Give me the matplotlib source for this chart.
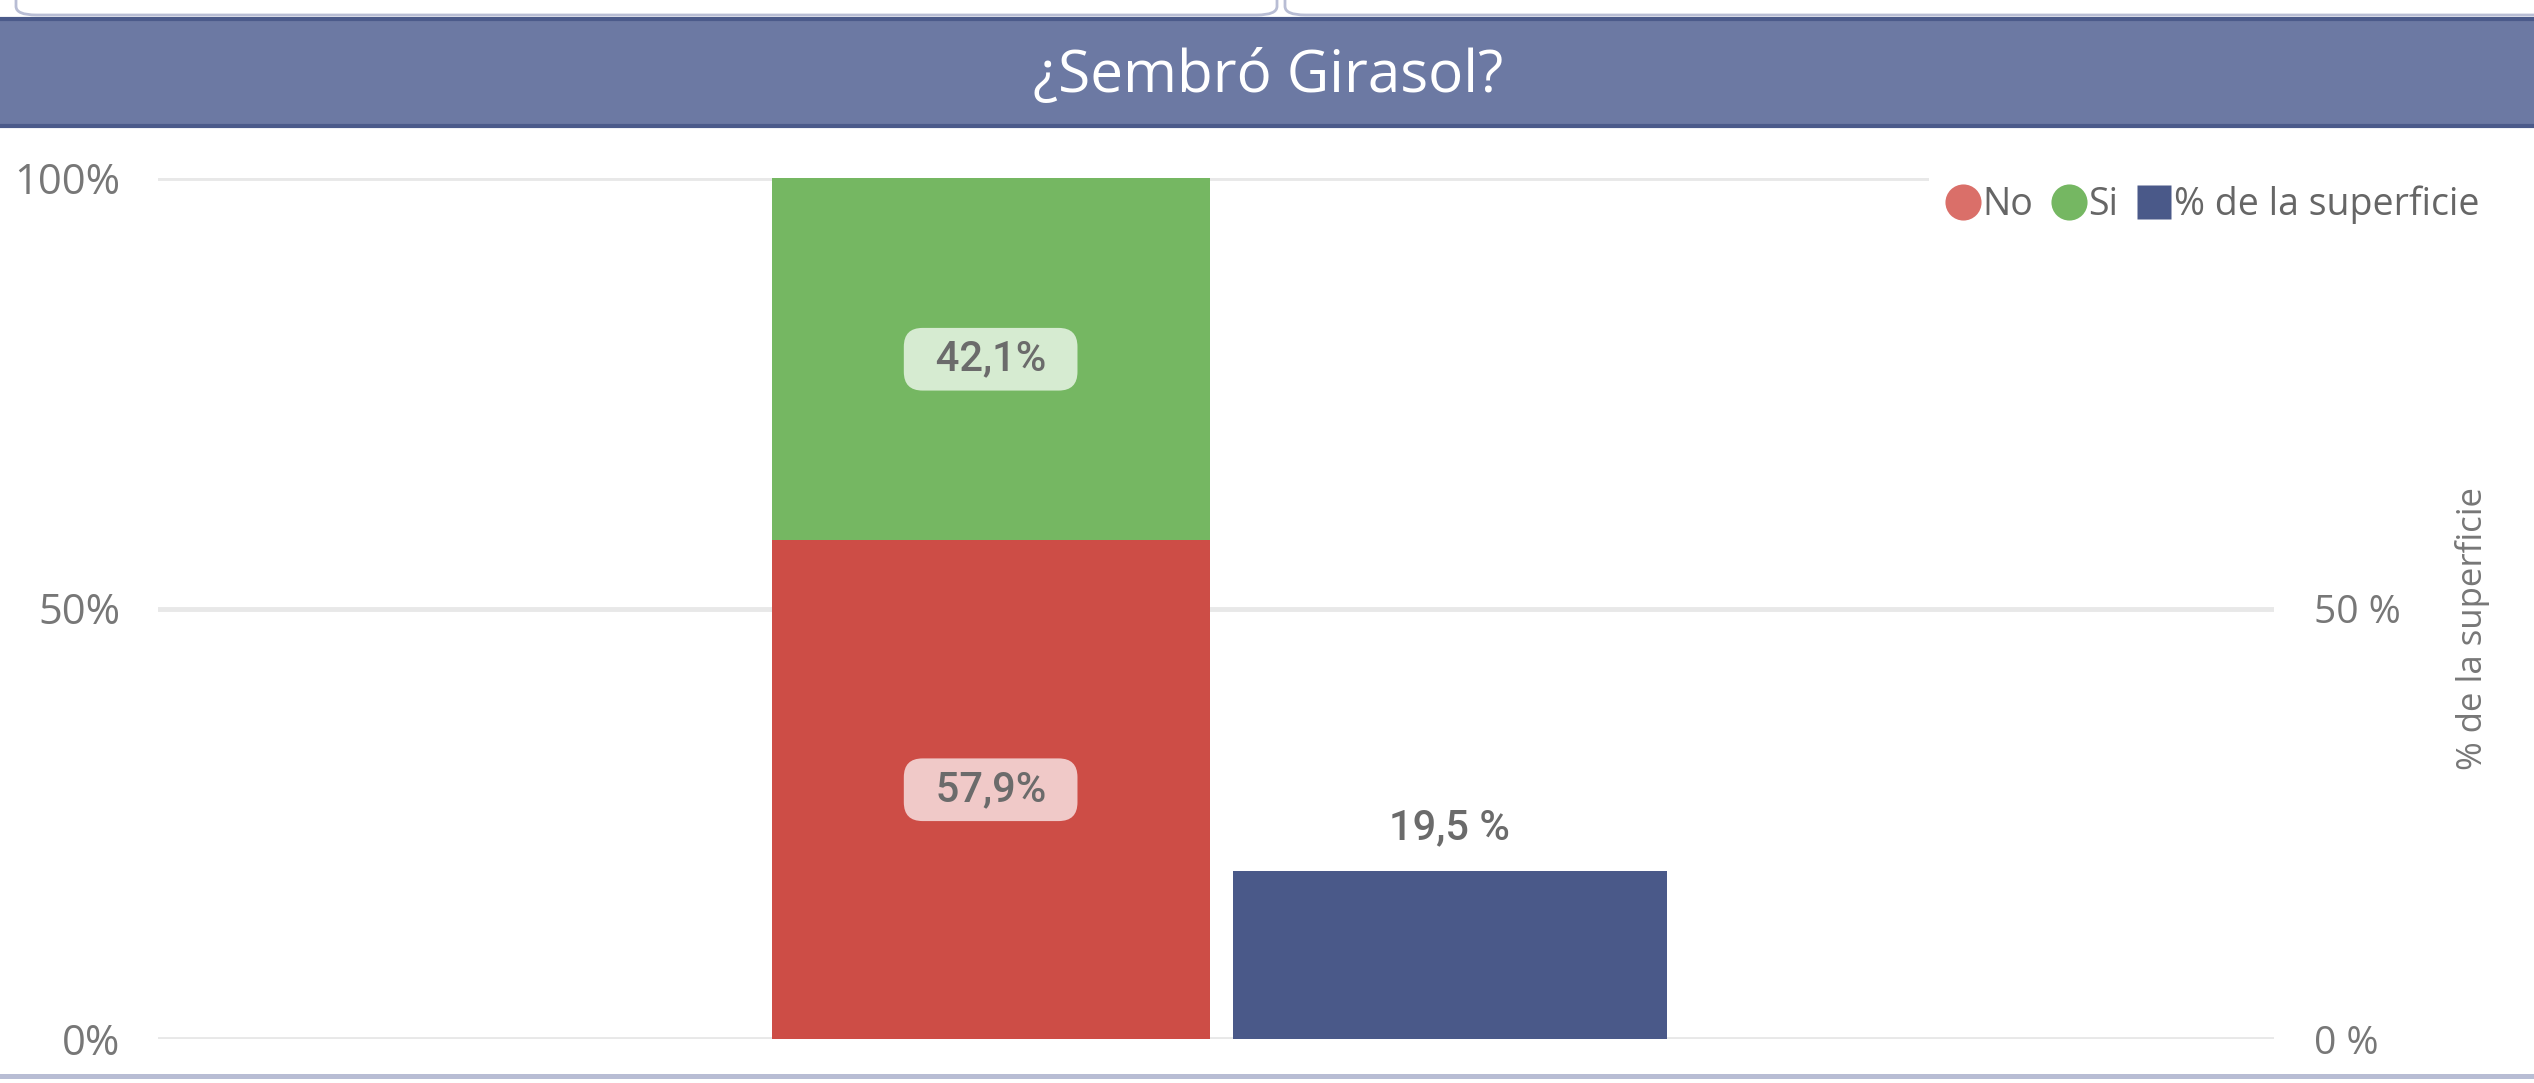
import numpy as np
import matplotlib.pyplot as plt
from matplotlib.lines import Line2D
from matplotlib.patches import Rectangle, FancyBboxPatch

W, H = 2534, 1083

# data
categories = ["¿Sembró Girasol?"]
no_pct = [57.9]
si_pct = [42.1]
sup_pct = [19.5]
left_ticks = [0, 50, 100]
right_ticks = [0, 50]

RED = "#CD4D46"
GREEN = "#75B762"
BLUE = "#4A5989"
GREY = "#777777"

plt.rcParams['font.family'] = ['Open Sans', 'DejaVu Sans']

fig = plt.figure(figsize=(W / 100, H / 100), dpi=100)

# header banner and card edges
for x0, x1 in [(16, 1277), (1285, 2560)]:
    fig.patches.append(FancyBboxPatch((x0 / W, 1 - 15 / H), (x1 - x0) / W, 40 / H,
                                      boxstyle="round,pad=0,rounding_size=0.008",
                                      transform=fig.transFigure, fc="white",
                                      ec="#B8BDD4", lw=2))
fig.patches.append(Rectangle((-0.01, 1 - 126 / H), 1.02, 107 / H, transform=fig.transFigure,
                             fc="#6C79A3", ec="#4B5A8A", lw=3))
fig.text(1268 / W, 1 - 77 / H, categories[0], ha="center", va="center",
         color="white", fontsize=42)
fig.patches.append(Rectangle((0, 1 - 1079 / H), 1, 5 / H, transform=fig.transFigure,
                             fc="#B8BDD4", ec="none"))

ax = fig.add_axes([158 / W, 1 - 1039 / H, (2274 - 158) / W, (1039 - 178) / H])
ax2 = ax.twinx()

x = np.arange(len(categories))
w_stack = 0.207
w_sup = 0.205
off_stack = -0.1065
off_sup = 0.1105

no = np.array(no_pct) / 100
si = np.array(si_pct) / 100
sup = np.array(sup_pct) / 100

ax.bar(x + off_stack, no, w_stack, color=RED, zorder=2)
ax.bar(x + off_stack, si, w_stack, bottom=no, color=GREEN, zorder=2)
ax2.bar(x + off_sup, sup, w_sup, color=BLUE, zorder=2)

def fmt(v):
    return f"{v:.1f}".replace(".", ",")

lab_font = dict(fontsize=30, color="#6B6B6B", family=["Roboto", "DejaVu Sans"],
                fontweight="medium")
pad = "  "
for xi, v, b in zip(x, no, np.zeros_like(no)):
    ax.text(xi + off_stack, b + v / 2, pad + fmt(v * 100) + "%" + pad, ha="center", va="center",
            zorder=3, **lab_font,
            bbox=dict(boxstyle="round,pad=0.26,rounding_size=0.45", fc="#F0C9C8", ec="none"))
for xi, v, b in zip(x, si, no):
    ax.text(xi + off_stack, b + v / 2, pad + fmt(v * 100) + "%" + pad, ha="center", va="center",
            zorder=3, **lab_font,
            bbox=dict(boxstyle="round,pad=0.26,rounding_size=0.45", fc="#D6EBD1", ec="none"))
for xi, v in zip(x, sup):
    ax2.annotate(fmt(v * 100) + " %", (xi + off_sup, v), xytext=(0, 31), textcoords="offset points",
                 ha="center", va="center", **lab_font)

ax.set_xlim(-0.5, 0.5)
ax.set_ylim(0, 1)
ax2.set_ylim(0, 1)
ax.set_xticks([])
ax.set_yticks([t / 100 for t in left_ticks])
ax.set_yticklabels([f"{t}%" for t in left_ticks])
ax2.set_yticks([t / 100 for t in right_ticks])
ax2.set_yticklabels([f"{t} %" for t in right_ticks])
ax.tick_params(axis="y", length=0, pad=27, labelsize=30, labelcolor=GREY)
ax2.tick_params(axis="y", length=0, pad=29, labelsize=28, labelcolor=GREY)
ax.grid(axis="y", color="#E8E8E8", lw=3.5, zorder=0)
ax.set_axisbelow(True)
for a in (ax, ax2):
    for s in a.spines.values():
        s.set_visible(False)
    a.patch.set_visible(False)

ax2.set_ylabel("% de la superficie", fontsize=25, color=GREY, rotation=90, va="center")
ax2.yaxis.set_label_coords(1.0936, 0.477)

handles = [
    Line2D([0], [0], marker="o", color="none", markerfacecolor="#DA6F69",
           markeredgecolor="none", markersize=26, label="No"),
    Line2D([0], [0], marker="o", color="none", markerfacecolor=GREEN,
           markeredgecolor="none", markersize=26, label="Si"),
    Line2D([0], [0], marker="s", color="none", markerfacecolor=BLUE,
           markeredgecolor="none", markersize=25, label="% de la superficie"),
]
leg = ax2.legend(handles=handles, loc="center right", ncol=3,
                 bbox_to_anchor=(2498 / W, 1 - 205 / H), bbox_transform=fig.transFigure,
                 frameon=True, facecolor="white", edgecolor="none", framealpha=1,
                 fontsize=27, handlelength=0.8, handletextpad=0.12, columnspacing=0.55,
                 borderaxespad=0, borderpad=0.5, fancybox=False)
for t in leg.get_texts():
    t.set_color("#666666")

fig.savefig("out.png", dpi=100)
